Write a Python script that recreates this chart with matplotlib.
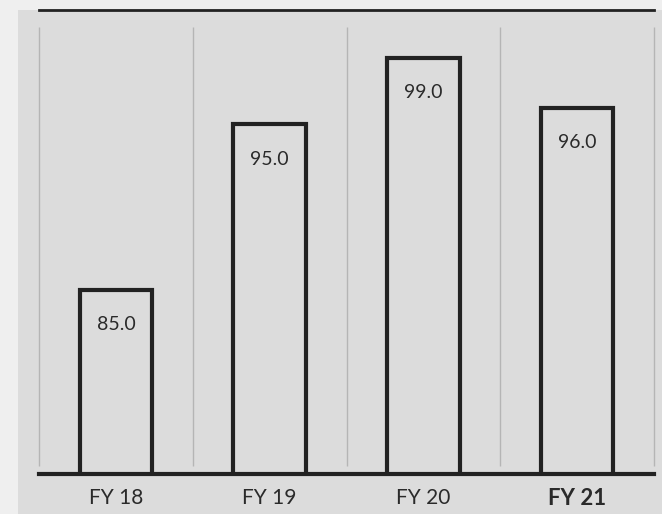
import matplotlib
matplotlib.use('Agg')
import matplotlib.pyplot as plt
from matplotlib.patches import Rectangle

plt.rcParams['font.family'] = ['Lato', 'DejaVu Sans']

years = ['FY 18', 'FY 19', 'FY 20', 'FY 21']
scores = [85.0, 95.0, 99.0, 96.0]

panel_gray = '#dcdcdc'
ink = '#222222'

fig = plt.figure(figsize=(6.62, 5.14), dpi=100)
fig.patch.set_facecolor('#efefef')
# gray panel behind the chart (must sit under the axes)
fig.patches.append(Rectangle((18 / 662, 0), 1, 1 - 10 / 514, transform=fig.transFigure,
                             facecolor=panel_gray, edgecolor='none', zorder=-5))

ax = fig.add_axes([39 / 662, 40 / 514, 615 / 662, 464 / 514])
ax.set_facecolor('none')

x = range(len(years))
ax.set_xlim(-0.5, len(years) - 0.5)
ax.set_ylim(73.92, 101.89)

# thin separators between categories
seps = [i - 0.5 for i in range(len(years) + 1)]
ax.vlines(seps, 74.4, 100.87, colors='#b5b5b5', linewidth=1, zorder=1, clip_on=False)

bars = ax.bar(x, scores, width=0.47, bottom=0, facecolor=panel_gray,
              edgecolor=ink, linewidth=3, zorder=2)

for xi, v in zip(x, scores):
    ax.annotate(f'{v:.1f}', (xi, v), xytext=(0, -25), textcoords='offset points',
                ha='center', va='center', fontsize=14, color='#2a2a2a', zorder=3)

for s in ['left', 'right']:
    ax.spines[s].set_visible(False)
ax.spines['top'].set_linewidth(2)
ax.spines['top'].set_color(ink)
ax.spines['bottom'].set_linewidth(3)
ax.spines['bottom'].set_color(ink)
ax.spines['bottom'].set_zorder(4)

ax.set_yticks([])
ax.set_xticks(list(x))
ax.set_xticklabels(years, fontsize=15, color='#2a2a2a')
ax.tick_params(axis='x', length=0, pad=10)
lbl = ax.get_xticklabels()[-1]
lbl.set_fontweight('bold')
lbl.set_fontsize(16)

fig.savefig('out.png', dpi=100)
